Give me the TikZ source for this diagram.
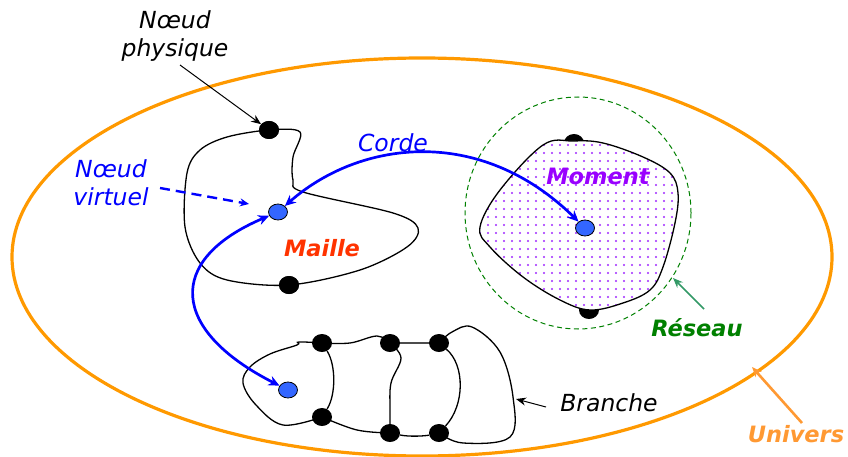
\documentclass[tikz,border=0pt]{standalone}
\usepackage{fontspec}
\setmainfont{DejaVu Sans}
\usetikzlibrary{arrows.meta,shapes.geometric,patterns.meta}
\definecolor{orangeU}{RGB}{255,153,0}
\definecolor{orangeL}{RGB}{255,153,51}
\definecolor{blueC}{RGB}{0,0,255}
\definecolor{nodeblue}{RGB}{51,102,255}
\definecolor{mailleR}{RGB}{255,51,0}
\definecolor{violetM}{RGB}{153,0,255}
\definecolor{dotV}{RGB}{160,40,255}
\definecolor{greenD}{RGB}{0,128,0}
\definecolor{greenA}{RGB}{51,153,102}
\begin{document}
\begin{tikzpicture}[x=1pt,y=-1pt,
  phys/.style={ellipse,fill=black,minimum width=20pt,minimum height=18pt,inner sep=0pt},
  virt/.style={ellipse,draw=black,fill=nodeblue,minimum width=19pt,minimum height=16pt,inner sep=0pt,line width=0.8pt},
  wire/.style={line width=1.3pt,black},
  corde/.style={draw=blueC,line width=2.7pt,{Stealth[length=11pt,width=10pt]}-{Stealth[length=11pt,width=10pt]}},
  lab/.style={font=\fontsize{23.5}{28}\selectfont\itshape,align=center},
  blab/.style={font=\fontsize{22.5}{27}\selectfont\bfseries\itshape,align=center},
  ptr/.style={-{Stealth[length=10pt,width=8pt]},line width=1pt}]
\useasboundingbox (0,0) rectangle (848,457);

% Univers
\draw[orangeU,line width=3.2pt] (422,257) ellipse [x radius=410pt, y radius=199pt];

% Reseau
\draw[greenD,line width=1pt,dash pattern=on 5pt off 3.5pt] (578,213) ellipse [x radius=113pt, y radius=116pt];

% Moment nodes (behind)
\node[phys] (m1) at (574,143) {};
\node[phys] (m2) at (589,310) {};
\path[preaction={fill=white},pattern={Dots[distance=8pt,radius=1.1pt]},pattern color=dotV,draw=black,line width=1.3pt]
  plot[smooth cycle,tension=0.6] coordinates {(480,227) (500,190) (543,145) (573,141) (603,143) (643,157) (670,173) (678,193) (675,223) (663,267) (650,290) (623,303) (590,310) (560,300) (523,277) (490,247)};
\node[virt] (v2) at (585,228) {};

% Maille
\node[phys] (p1) at (269,130) {};
\node[phys] (p2) at (289,285) {};
\draw[wire] plot[smooth cycle,tension=0.55] coordinates {(p1.center) (300,132) (293,157) (293,180) (303,192) (393,213) (418,228) (407,247) (360,270) (p2.center) (227,280) (200,263) (185,227) (187,173) (200,150) (227,137)};
\node[phys] at (p1) {};
\node[phys] at (p2) {};
\node[virt] (v1) at (278,212) {};

% Branche
\node[phys] (b1) at (322,343) {};
\node[phys] (b2) at (390,343) {};
\node[phys] (b3) at (439,343) {};
\node[phys] (b4) at (322,417) {};
\node[phys] (b5) at (390,433) {};
\node[phys] (b6) at (439,433) {};
\node[virt] (v3) at (288,390) {};
\draw[wire] (b1) .. controls (336,365) and (336,395) .. (b4);
\draw[wire] plot[smooth,tension=0.6] coordinates {(b2.center) (401,358) (391,383) (390,410) (b5.center)};
\draw[wire] (b3) .. controls (465,365) and (465,405) .. (b6);
\draw[wire] plot[smooth,tension=0.6] coordinates {(b1.center) (350,343) (377,336) (b2.center)};
\draw[wire,black!70] (b2) -- (b3);
\draw[wire] plot[smooth,tension=0.6] coordinates {(b4.center) (357,430) (b5.center)};
\draw[wire] (b5) .. controls (410,437) and (425,436) .. (b6);
\draw[wire] plot[smooth,tension=0.6] coordinates {(b1.center) (299,342) (297,345) (270,354) (250,367) (243,383) (256,405) (283,425) (b4.center)};
\draw[wire] plot[smooth,tension=0.6] coordinates {(b3.center) (452,332) (472,327) (500,352) (513,397) (510,437) (463,443) (b6.center)};

% Cordes
\draw[corde] (v1) .. controls (360,140) and (480,125) .. (v2);
\draw[corde] (v3) .. controls (170,330) and (165,260) .. (v1);

% Labels
\node[lab] (lphys) at (175,36) {Nœud\\physique};
\coordinate (aphys) at (180,65);
\draw[ptr] (aphys) -- (p1);

\node[lab,text=blueC] (lvirt) at (111,183) {Nœud\\virtuel};
\coordinate (avirt) at (160,188);
\coordinate (avirtE) at (249,204);
\draw[blueC,line width=2.4pt,dash pattern=on 10pt off 6pt,-{Stealth[length=9pt,width=8pt]}] (avirt) -- (avirtE);

\node[lab,text=blueC] (lcorde) at (393,143) {Corde};
\node[blab,text=mailleR] (lmaille) at (322,248) {Maille};
\node[blab,text=violetM] (lmoment) at (598,176) {Moment};

\node[blab,text=greenD] (lres) at (697,328) {Réseau};
\coordinate (ares) at (704,309);
\coordinate (aresE) at (673,278);
\draw[ptr,greenA,line width=1.5pt] (ares) -- (aresE);

\node[blab,text=orangeL] (luniv) at (796,434) {Univers};
\coordinate (auniv) at (802,423);
\coordinate (aunivE) at (752,367);
\draw[ptr,orangeL,line width=2.6pt] (auniv) -- (aunivE);

\node[lab] (lbr) at (609,403) {Branche};
\coordinate (abr) at (546,407);
\coordinate (abrE) at (516,399);
\draw[ptr] (abr) -- (abrE);
\end{tikzpicture}
\end{document}
